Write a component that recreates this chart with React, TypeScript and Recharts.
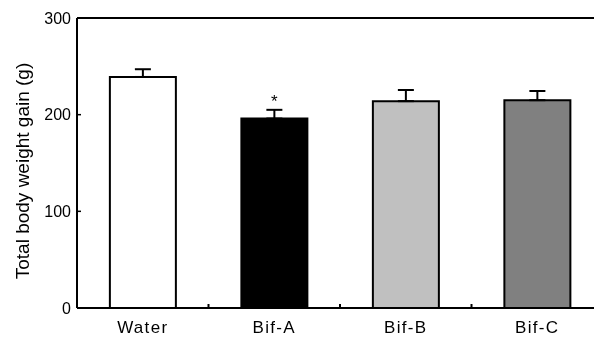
import React from "react";
import {
  BarChart,
  Bar,
  XAxis,
  YAxis,
  Cell,
  ErrorBar,
  LabelList,
  ReferenceLine,
  Label,
} from "recharts";

const categories = ["Water", "Bif-A", "Bif-B", "Bif-C"];
const means = [239, 196, 214, 215];
const errors = [8, 9, 11.5, 9.5];
const significance = ["", "*", "", ""];
const fills = ["#ffffff", "#000000", "#c0c0c0", "#808080"];
const yTicks = [0, 100, 200, 300];

const data = categories.map((name, i) => ({
  name,
  value: means[i],
  err: [0, errors[i]],
  sig: significance[i],
}));

const FONT = "Arial, 'Liberation Sans', Helvetica, sans-serif";
const X_TICK_MARGIN = 13;

const YLabel = (props: any) => {
  const vb = props.viewBox || {};
  const cx = (vb.x ?? 0) + 14;
  const cy = (vb.y ?? 0) + (vb.height ?? 0) / 2 + 8;
  return (
    <text
      x={cx}
      y={cy}
      transform={`rotate(-90, ${cx}, ${cy})`}
      textAnchor="middle"
      dominantBaseline="central"
      fontFamily={FONT}
      fontSize={19}
      fill="#000"
    >
      Total body weight gain (g)
    </text>
  );
};

const XTick = (props: any) => {
  const { x, y, payload, index } = props;
  const axisY = y - X_TICK_MARGIN;
  const half = payload && typeof payload.offset === "number" ? payload.offset : 0;
  return (
    <g>
      {index > 0 && half > 0 && (
        <line
          x1={x - half}
          x2={x - half}
          y1={axisY}
          y2={axisY - 4}
          stroke="#000"
          strokeWidth={2}
        />
      )}
      <text
        x={x}
        y={y}
        textAnchor="middle"
        dominantBaseline="hanging"
        fontFamily={FONT}
        fontSize={17}
        letterSpacing={1.3}
        fill="#000"
      >
        {payload.value}
      </text>
    </g>
  );
};

export default function App() {
  return (
    <div
      style={{
        position: "fixed",
        left: 8,
        top: 8,
        width: 586,
        height: 329,
        overflow: "hidden",
      }}
    >
      <BarChart
        width={606}
        height={329}
        data={data}
        margin={{ top: 10, right: 11, bottom: 0, left: 0 }}
        barCategoryGap="25%"
      >
        <XAxis
          dataKey="name"
          height={29}
          tickLine={false}
          tickSize={0}
          tickMargin={X_TICK_MARGIN}
          axisLine={{ stroke: "#000", strokeWidth: 2 }}
          tick={<XTick />}
          interval={0}
        />
        <YAxis
          width={69}
          domain={[0, 300]}
          ticks={yTicks}
          tickSize={-4}
          tickMargin={10}
          axisLine={{ stroke: "#000", strokeWidth: 2 }}
          tickLine={{ stroke: "#000", strokeWidth: 1.5 }}
          tick={{ fill: "#000", fontSize: 16, fontFamily: FONT }}
          allowDataOverflow
        >
          <Label content={<YLabel />} position="insideLeft" />
        </YAxis>
        <ReferenceLine y={300} stroke="#000" strokeWidth={2} ifOverflow="extendDomain" />
        <Bar dataKey="value" stroke="#000" strokeWidth={2} isAnimationActive={false}>
          {data.map((d, i) => (
            <Cell key={d.name} fill={fills[i]} />
          ))}
          <ErrorBar dataKey="err" width={8} stroke="#000" strokeWidth={2} direction="y" />
          <LabelList
            dataKey="sig"
            position="top"
            offset={12}
            fill="#000"
            fontSize={17}
            fontFamily={FONT}
          />
        </Bar>
      </BarChart>
    </div>
  );
}
